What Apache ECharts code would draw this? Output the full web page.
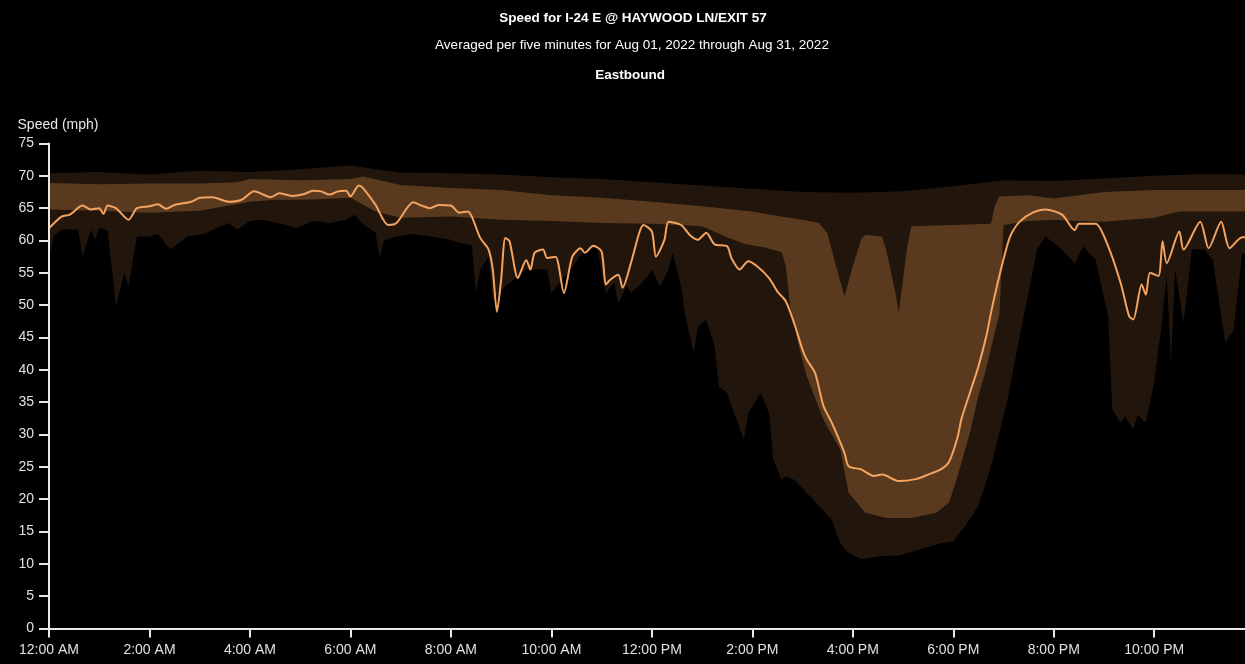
<!DOCTYPE html>
<html>
<head>
<meta charset="utf-8">
<script src="https://cdn.jsdelivr.net/npm/echarts@6/dist/echarts.min.js"></script>
<style>
html,body{margin:0;padding:0;background:#000;}
#chart{width:1245px;height:664px;}
</style>
</head>
<body>
<div id="chart"></div>
<script>
// ---- data (time of day "HH:MM", speed mph) ----
const titleText = "Speed for I-24 E @ HAYWOOD LN/EXIT 57";
const subtitleText = "Averaged per five minutes for Aug 01, 2022 through Aug 31, 2022";
const directionText = "Eastbound";
const yAxisName = "Speed (mph)";
const xTickLabels = ["12:00 AM","2:00 AM","4:00 AM","6:00 AM","8:00 AM","10:00 AM","12:00 PM","2:00 PM","4:00 PM","6:00 PM","8:00 PM","10:00 PM"];

const medianSpeed = [
["00:00",61.9],["00:15",63.7],["00:25",64.0],["00:40",65.4],["00:50",64.8],["01:00",65.0],["01:05",64.1],["01:10",65.4],["01:20",65.0],["01:35",63.2],["01:45",65.0],["02:00",65.3],["02:10",65.6],["02:20",64.9],["02:30",65.5],["02:50",66.0],["03:00",66.6],["03:15",66.7],["03:35",66.0],["03:50",66.3],["04:05",67.6],["04:25",66.7],["04:35",67.3],["04:50",66.9],["05:05",67.2],["05:15",67.7],["05:25",67.6],["05:35",67.1],["05:45",67.6],["05:55",67.7],["06:00",66.8],["06:10",68.5],["06:15",68.1],["06:30",65.5],["06:45",62.4],["06:55",62.7],["07:15",65.9],["07:25",65.4],["07:35",65.0],["07:45",65.5],["08:00",65.4],["08:10",64.3],["08:20",64.5],["08:25",63.7],["08:35",60.4],["08:45",58.6],["08:50",55.5],["08:55",49.0],["09:00",53.9],["09:05",60.4],["09:10",59.9],["09:20",54.2],["09:30",57.0],["09:35",55.5],["09:40",58.1],["09:50",58.6],["09:55",57.3],["10:05",57.5],["10:15",51.9],["10:25",57.5],["10:35",58.8],["10:40",58.1],["10:50",59.2],["11:00",58.3],["11:05",53.2],["11:10",53.9],["11:20",54.7],["11:25",52.7],["11:35",56.5],["11:45",61.2],["11:50",62.4],["12:00",61.4],["12:05",57.5],["12:15",60.1],["12:20",62.9],["12:35",62.4],["12:45",60.9],["12:55",60.1],["13:05",61.2],["13:15",59.4],["13:30",59.1],["13:35",57.3],["13:45",55.5],["13:55",56.8],["14:05",56.1],["14:20",54.2],["14:30",52.1],["14:40",50.6],["14:50",47.2],["15:00",43.1],["15:05",41.6],["15:15",39.5],["15:25",34.4],["15:35",31.8],["15:50",27.2],["15:55",25.1],["16:10",24.6],["16:25",23.6],["16:35",23.8],["16:55",22.8],["17:15",23.1],["17:30",23.8],["17:45",24.6],["17:55",25.8],["18:05",29.5],["18:10",32.5],["18:20",36.5],["18:30",40.5],["18:40",45.5],["18:45",48.8],["18:55",54.5],["19:05",59.5],["19:10",61.2],["19:20",63.0],["19:35",64.3],["19:50",64.8],["20:10",64.0],["20:25",61.6],["20:30",62.6],["20:50",62.6],["21:05",59.1],["21:20",53.4],["21:30",48.3],["21:35",47.8],["21:45",53.2],["21:50",51.6],["21:55",55.0],["22:05",54.5],["22:10",59.9],["22:15",56.5],["22:30",61.4],["22:35",58.6],["22:55",62.9],["23:05",58.8],["23:20",62.9],["23:30",58.8],["23:45",60.5],["23:55",60.5]
];

const outerHigh = [
["00:00",70.4],["01:00",70.6],["02:00",70.2],["03:00",70.8],["04:00",70.6],["05:00",71.0],["06:00",71.6],["06:30",71.0],["07:00",70.5],["08:00",70.4],["09:00",70.2],["10:00",69.8],["11:00",69.5],["12:00",69.0],["13:00",68.5],["14:00",68.0],["15:00",67.5],["16:00",67.4],["17:00",67.6],["18:00",68.4],["19:00",69.3],["20:00",69.2],["21:00",69.6],["22:00",70.0],["23:00",70.3],["23:55",70.2]
];

const innerHigh = [
["00:00",68.9],["01:00",68.7],["02:00",68.8],["03:00",68.8],["03:45",69.0],["04:00",69.5],["05:00",69.3],["06:00",69.5],["06:15",69.9],["07:00",68.6],["08:00",68.1],["09:00",67.8],["10:00",67.0],["11:00",66.6],["12:00",66.0],["13:00",65.3],["14:00",64.5],["14:30",63.8],["15:00",63.2],["15:20",62.7],["15:30",61.0],["15:40",56.0],["15:50",51.4],["16:00",56.0],["16:10",60.2],["16:15",60.9],["16:35",60.6],["16:40",58.5],["16:50",52.5],["16:55",49.0],["17:05",59.1],["17:10",62.2],["18:00",62.4],["18:45",62.6],["18:50",65.5],["18:55",66.8],["19:30",67.0],["20:00",66.5],["20:30",67.0],["21:00",67.5],["22:00",67.8],["23:00",67.8],["23:55",67.8]
];

const innerLow = [
["00:00",64.8],["01:00",64.6],["02:00",64.3],["03:00",64.6],["04:00",66.0],["04:30",66.3],["05:00",66.3],["05:30",66.4],["06:00",66.6],["06:30",64.5],["07:00",63.5],["08:00",63.7],["09:00",63.2],["10:00",63.0],["11:00",62.7],["12:00",62.6],["12:30",62.4],["13:00",62.2],["13:30",60.5],["13:50",59.5],["14:15",58.9],["14:35",58.2],["14:40",56.0],["14:45",50.0],["14:55",44.0],["15:05",39.0],["15:25",32.3],["15:45",27.7],["15:55",21.0],["16:15",17.9],["16:40",17.1],["17:10",17.1],["17:40",17.9],["17:55",19.5],["18:05",23.5],["18:20",30.3],["18:30",36.0],["18:40",40.5],["18:50",46.0],["18:55",48.5],["19:00",62.4],["19:30",63.0],["20:00",63.2],["20:30",63.0],["21:00",62.9],["22:00",63.5],["22:30",64.5],["23:00",64.5],["23:55",64.5]
];

const outerLow = [
["00:00",57.0],["00:05",60.6],["00:15",61.7],["00:35",61.7],["00:40",57.5],["00:50",61.7],["00:55",60.1],["01:00",62.0],["01:10",61.5],["01:20",49.8],["01:30",55.0],["01:35",52.9],["01:45",60.6],["02:00",60.6],["02:10",61.0],["02:25",58.6],["02:45",60.6],["03:05",61.0],["03:20",61.9],["03:35",62.7],["03:45",61.7],["04:00",63.0],["04:15",63.2],["04:40",62.5],["04:55",61.9],["05:15",63.0],["05:35",62.7],["05:55",63.2],["06:05",64.0],["06:15",62.5],["06:30",61.2],["06:35",57.5],["06:40",60.0],["06:55",60.6],["07:15",61.0],["07:35",60.6],["08:00",60.1],["08:10",59.6],["08:25",59.3],["08:30",51.9],["08:35",55.5],["08:45",57.5],["08:50",50.8],["09:05",52.9],["09:30",55.5],["09:55",55.5],["10:00",51.9],["10:20",55.0],["10:40",58.6],["10:55",58.8],["11:05",51.9],["11:15",53.5],["11:20",50.3],["11:30",53.0],["11:35",51.9],["11:45",53.0],["11:55",54.5],["12:00",55.5],["12:10",52.9],["12:20",55.5],["12:25",58.1],["12:35",52.9],["12:40",48.3],["12:50",42.6],["12:55",46.7],["13:05",47.7],["13:15",43.6],["13:20",37.4],["13:30",36.4],["13:35",34.4],["13:50",29.2],["13:55",33.3],["14:10",36.4],["14:20",33.3],["14:25",26.1],["14:35",23.0],["14:40",23.5],["14:50",23.0],["15:05",21.0],["15:20",18.9],["15:35",16.8],["15:45",13.2],["15:55",11.7],["16:10",10.7],["16:35",11.2],["16:55",11.3],["17:20",12.2],["17:45",13.2],["18:00",13.5],["18:15",16.0],["18:30",19.0],["18:45",25.0],["19:05",35.4],["19:20",45.7],["19:30",52.0],["19:40",58.6],["19:50",60.6],["20:05",59.1],["20:25",56.5],["20:35",59.1],["20:50",57.0],["21:05",48.3],["21:10",33.8],["21:20",31.8],["21:25",32.8],["21:35",30.8],["21:40",33.0],["21:50",31.8],["22:00",38.0],["22:10",48.3],["22:15",54.5],["22:20",41.1],["22:25",55.5],["22:35",47.2],["22:45",58.6],["23:00",58.6],["23:10",57.0],["23:25",44.2],["23:35",46.2],["23:45",58.0],["23:55",58.0]
];

// ---- helpers ----
function toMin(s){ const p = s.split(':').map(Number); return p[0]*60 + p[1]; }
function toXY(arr){ return arr.map(d => [toMin(d[0]), d[1]]); }

const FONT = '"Liberation Sans", Arial, sans-serif';
const OUTER_COLOR = '#22150c';
const INNER_COLOR = '#5a3a1e';
const LINE_COLOR = '#f4a460';

function areaSeries(name, arr, color, z){
  return {
    name: name, type: 'line', data: toXY(arr), symbol: 'none', showSymbol: false,
    lineStyle: { width: 0, color: color }, itemStyle: { color: color },
    areaStyle: { color: color, opacity: 1, origin: 'start' },
    z: z, silent: true, animation: false
  };
}

const chart = echarts.init(document.getElementById('chart'), null, { renderer: 'canvas' });
chart.setOption({
  backgroundColor: '#000',
  animation: false,
  graphic: [
    { type: 'text', x: 633, y: 18, style: { text: titleText, fill: '#fff', font: 'bold 13.5px ' + FONT, align: 'center', verticalAlign: 'middle' } },
    { type: 'text', x: 632, y: 45, style: { text: subtitleText, fill: '#fff', font: '13.5px ' + FONT, align: 'center', verticalAlign: 'middle' } },
    { type: 'text', x: 630, y: 75, style: { text: directionText, fill: '#fff', font: 'bold 13.5px ' + FONT, align: 'center', verticalAlign: 'middle' } }
  ],
  grid: { left: 49, right: -5.5, top: 143.5, bottom: 35.5, containLabel: false, outerBoundsMode: 'none' },
  xAxis: {
    type: 'value', min: 0, max: 1435, interval: 120, z: 10,
    axisLine: { show: true, onZero: false, lineStyle: { color: '#e8e8e8', width: 2 } },
    axisTick: { show: true, length: 9, lineStyle: { color: '#e8e8e8', width: 2 } },
    splitLine: { show: false },
    axisLabel: {
      color: '#e0e0e0', fontFamily: FONT, fontSize: 14, margin: 15,
      formatter: v => xTickLabels[Math.round(v/120)] || ''
    }
  },
  yAxis: {
    type: 'value', min: 0, max: 75, interval: 5, z: 10,
    name: yAxisName, nameLocation: 'end', nameGap: 11,
    nameTextStyle: { color: '#e8e8e8', fontFamily: FONT, fontSize: 14, align: 'center', padding: [0,0,0,18] },
    axisLine: { show: true, lineStyle: { color: '#e8e8e8', width: 2 } },
    axisTick: { show: true, length: 10, lineStyle: { color: '#e8e8e8', width: 2 } },
    splitLine: { show: false },
    axisLabel: { color: '#e0e0e0', fontFamily: FONT, fontSize: 14, margin: 15 }
  },
  series: [
    areaSeries('outerHigh', outerHigh, OUTER_COLOR, 1),
    areaSeries('innerHigh', innerHigh, INNER_COLOR, 2),
    areaSeries('innerLow', innerLow, OUTER_COLOR, 3),
    areaSeries('outerLow', outerLow, '#000000', 4),
    {
      name: 'Median speed', type: 'line', data: toXY(medianSpeed), symbol: 'none', showSymbol: false,
      smooth: 0.25, lineStyle: { color: LINE_COLOR, width: 2 }, itemStyle: { color: LINE_COLOR },
      z: 5, animation: false
    }
  ]
});
</script>
</body>
</html>
